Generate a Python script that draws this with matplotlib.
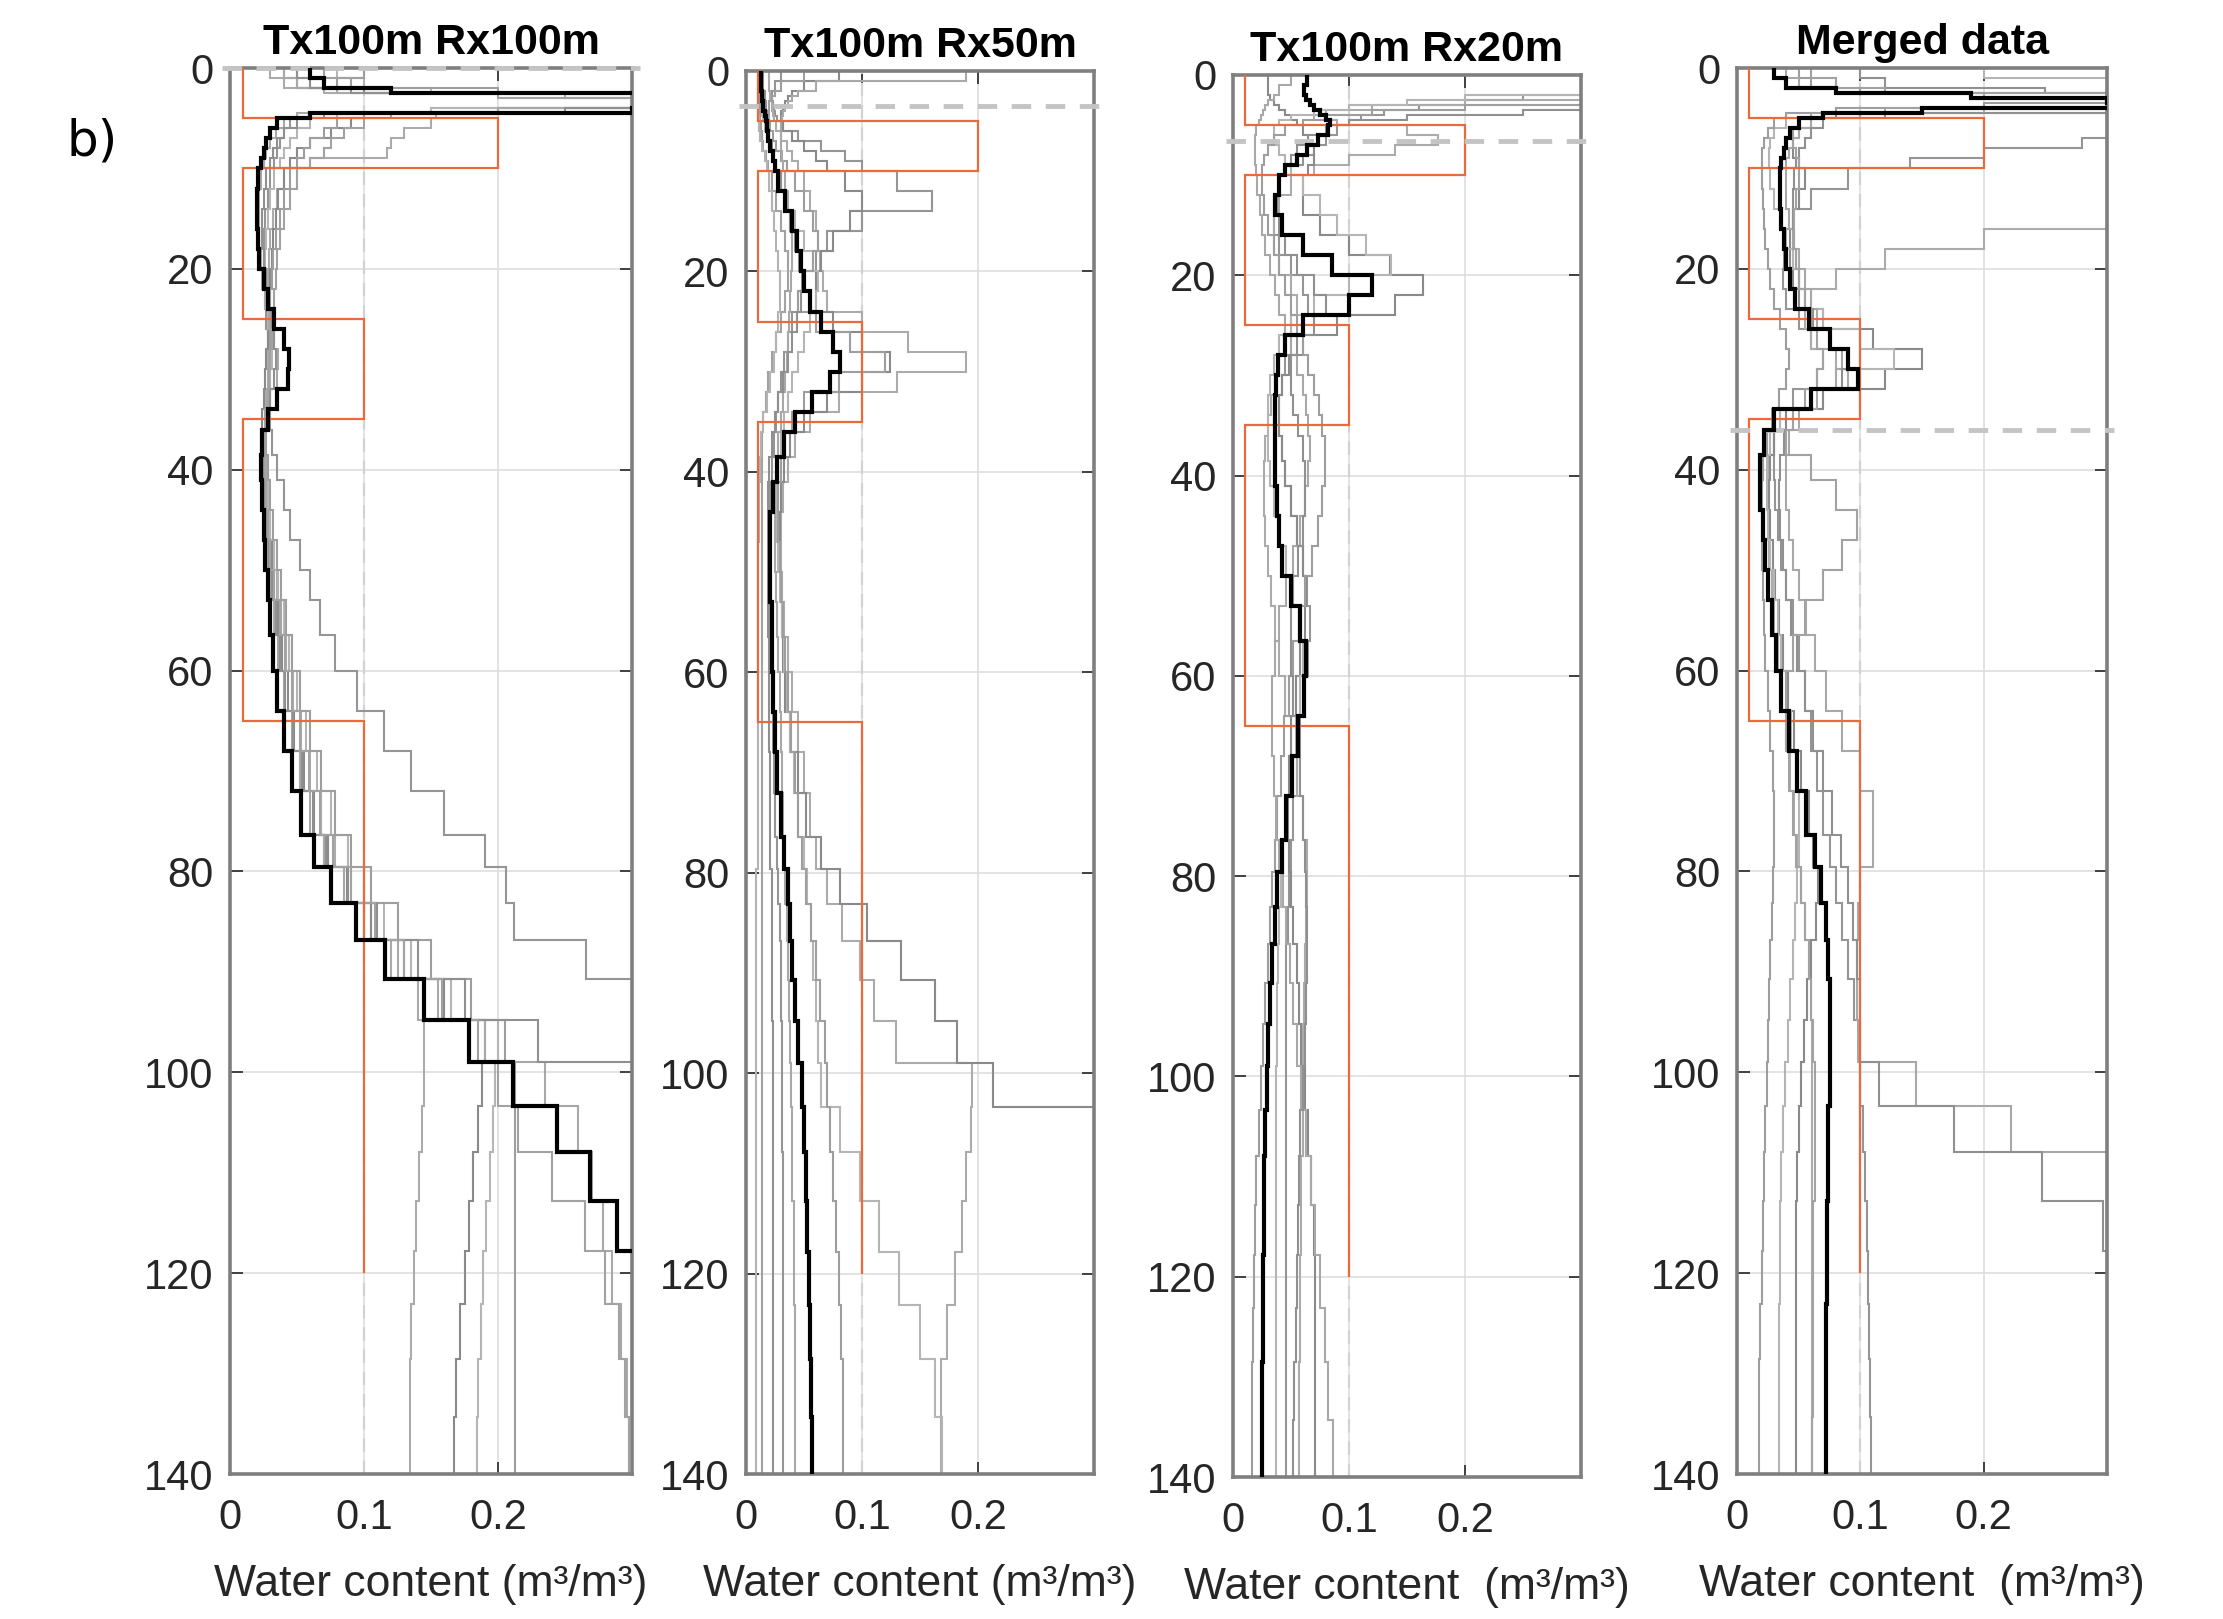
import matplotlib
matplotlib.use("Agg")
import matplotlib.pyplot as plt
from matplotlib.transforms import Bbox, TransformedBbox

plt.rcParams['font.family'] = ['Liberation Sans', 'DejaVu Sans']

# ---------------- data ----------------
# model layer edges (depth, m) shared by all inversion profiles
edges = [0, 1, 2, 2.5, 3, 3.5, 4, 4.5, 5, 6, 7, 8, 9, 10, 12, 14, 16, 18, 20, 22, 24, 26,
         28, 30, 32, 34, 36, 38.5, 41, 44, 47, 50, 53, 56.5, 60, 64, 68, 72, 76.4, 79.6,
         83.1, 86.8, 90.7, 94.8, 99.0, 103.4, 107.9, 112.8, 117.8, 123.1, 128.5, 134.3, 140]

# true (synthetic) model
true_edges = [0, 5, 10, 25, 35, 65, 120]
true_values = [0.01, 0.2, 0.01, 0.1, 0.01, 0.1]

titles = ["Tx100m Rx100m", "Tx100m Rx50m", "Tx100m Rx20m", "Merged data"]
xlabels = ["Water content (m³/m³)", "Water content (m³/m³)",
           "Water content  (m³/m³)", "Water content  (m³/m³)"]
ref_depths = [0.0, 3.5, 6.6, 36.0]
xticks = [0, 0.1, 0.2]
yticks = [0, 20, 40, 60, 80, 100, 120, 140]

# ---- panel 1 : Tx100m Rx100m ----
p1_black = [0.06, 0.07, 0.12, 0.4, 0.4, 0.4, 0.3, 0.06,
            0.035, 0.03, 0.027, 0.025, 0.023,
            0.021, 0.02, 0.02, 0.021, 0.022, 0.025, 0.028, 0.033, 0.04, 0.044, 0.043, 0.035, 0.028,
            0.024, 0.023, 0.024, 0.025, 0.026, 0.028, 0.03, 0.032, 0.035, 0.04, 0.046, 0.053, 0.063,
            0.075, 0.094, 0.116, 0.145, 0.178, 0.211, 0.244, 0.269, 0.289, 0.4, 0.4, 0.4, 0.4]
p1_g1 = [0.04, 0.05, 0.1, 0.4, 0.4, 0.4, 0.15, 0.06,
         0.045, 0.04, 0.037, 0.035, 0.033,
         0.03, 0.028, 0.026, 0.025, 0.025, 0.025, 0.026, 0.027, 0.028, 0.029, 0.03, 0.03, 0.03,
         0.031, 0.035, 0.04, 0.045, 0.052, 0.06, 0.067, 0.078, 0.095, 0.115, 0.135, 0.16, 0.19,
         0.206, 0.212, 0.266, 0.4, 0.4, 0.4, 0.4, 0.4, 0.4, 0.4, 0.4, 0.4, 0.4]
p1_g2 = [0.03, 0.04, 0.07, 0.2, 0.4, 0.4, 0.3, 0.154,
         0.15, 0.13, 0.12, 0.117, 0.06,
         0.04, 0.035, 0.032, 0.03, 0.029, 0.028, 0.028, 0.028, 0.028, 0.028, 0.028, 0.027, 0.026,
         0.026, 0.027, 0.028, 0.03, 0.032, 0.035, 0.038, 0.042, 0.047, 0.053, 0.06, 0.068, 0.078,
         0.09, 0.105, 0.12, 0.14, 0.145, 0.145, 0.143, 0.141, 0.139, 0.137, 0.135, 0.134, 0.134]
p1_g3 = [0.05, 0.06, 0.1, 0.3, 0.4, 0.4, 0.2, 0.1,
         0.09, 0.075, 0.06, 0.05, 0.045,
         0.04, 0.036, 0.034, 0.032, 0.031, 0.03, 0.03, 0.029, 0.028, 0.027, 0.026, 0.025, 0.024,
         0.024, 0.025, 0.027, 0.029, 0.031, 0.033, 0.036, 0.039, 0.043, 0.048, 0.055, 0.063, 0.073,
         0.087, 0.105, 0.13, 0.16, 0.19, 0.188, 0.185, 0.181, 0.178, 0.175, 0.172, 0.169, 0.167]
p1_g4 = [0.08, 0.1, 0.15, 0.35, 0.4, 0.3, 0.15, 0.08,
         0.06, 0.05, 0.045, 0.04, 0.037,
         0.033, 0.03, 0.028, 0.027, 0.026, 0.026, 0.027, 0.028, 0.03, 0.031, 0.03, 0.028, 0.026,
         0.025, 0.026, 0.028, 0.03, 0.033, 0.036, 0.04, 0.044, 0.05, 0.057, 0.065, 0.075, 0.088,
         0.1, 0.115, 0.135, 0.165, 0.2, 0.198, 0.196, 0.194, 0.191, 0.189, 0.187, 0.185, 0.184]
p1_g5 = [0.1, 0.08, 0.2, 0.4, 0.4, 0.4, 0.4, 0.1,
         0.08, 0.07, 0.06, 0.055, 0.05,
         0.045, 0.04, 0.037, 0.034, 0.032, 0.031, 0.03, 0.03, 0.03, 0.03, 0.029, 0.028, 0.027,
         0.027, 0.028, 0.03, 0.032, 0.035, 0.038, 0.042, 0.046, 0.052, 0.06, 0.068, 0.078, 0.09,
         0.105, 0.125, 0.15, 0.18, 0.205, 0.213, 0.213, 0.213, 0.213, 0.213, 0.213, 0.213, 0.213]
p1_g6 = [0.04, 0.05, 0.08, 0.25, 0.4, 0.4, 0.2, 0.05,
         0.04, 0.034, 0.03, 0.027, 0.025,
         0.023, 0.022, 0.022, 0.022, 0.023, 0.024, 0.026, 0.029, 0.033, 0.036, 0.035, 0.03, 0.026,
         0.023, 0.023, 0.024, 0.026, 0.028, 0.03, 0.033, 0.036, 0.04, 0.046, 0.052, 0.06, 0.07,
         0.085, 0.1, 0.125, 0.155, 0.19, 0.235, 0.26, 0.27, 0.278, 0.285, 0.292, 0.296, 0.298]
p1_g7 = [0.05, 0.06, 0.09, 0.3, 0.4, 0.4, 0.25, 0.07,
         0.05, 0.04, 0.035, 0.032, 0.03,
         0.027, 0.025, 0.024, 0.024, 0.025, 0.027, 0.029, 0.031, 0.033, 0.034, 0.033, 0.03, 0.027,
         0.025, 0.025, 0.026, 0.027, 0.029, 0.031, 0.034, 0.037, 0.041, 0.047, 0.054, 0.062, 0.072,
         0.088, 0.11, 0.14, 0.175, 0.23, 0.4, 0.4, 0.4, 0.4, 0.4, 0.4, 0.4, 0.4]
p1_g8 = [0.07, 0.09, 0.12, 0.2, 0.3, 0.4, 0.3, 0.12,
         0.1, 0.085, 0.075, 0.07, 0.06,
         0.05, 0.045, 0.04, 0.037, 0.035, 0.034, 0.033, 0.032, 0.031, 0.03, 0.029, 0.028, 0.027,
         0.026, 0.026, 0.027, 0.028, 0.03, 0.033, 0.037, 0.041, 0.046, 0.052, 0.059, 0.067, 0.077,
         0.09, 0.108, 0.13, 0.158, 0.185, 0.2, 0.215, 0.24, 0.265, 0.28, 0.29, 0.295, 0.298]

# ---- panel 2 : Tx100m Rx50m ----
p2_black = [0.013, 0.013, 0.014, 0.014, 0.015, 0.015, 0.016, 0.017,
            0.018, 0.019, 0.021, 0.023, 0.025,
            0.028, 0.034, 0.04, 0.044, 0.047, 0.05, 0.055, 0.065, 0.075, 0.081, 0.072, 0.057, 0.042,
            0.033, 0.027, 0.023, 0.021, 0.021, 0.021, 0.022, 0.022, 0.023, 0.025, 0.027, 0.03, 0.033,
            0.036, 0.038, 0.04, 0.042, 0.045, 0.048, 0.05, 0.052, 0.053, 0.054, 0.055, 0.056, 0.057]
p2_gA = [0.03, 0.025, 0.022, 0.022, 0.023, 0.024, 0.025, 0.027,
         0.032, 0.045, 0.065, 0.085, 0.1,
         0.13, 0.16, 0.1, 0.07, 0.06, 0.05, 0.045, 0.04, 0.036, 0.033, 0.03, 0.028, 0.026,
         0.024, 0.022, 0.021, 0.02, 0.02, 0.02, 0.02, 0.021, 0.022, 0.023, 0.024, 0.025, 0.027,
         0.028, 0.029, 0.03, 0.03, 0.031, 0.031, 0.031, 0.032, 0.032, 0.032, 0.032, 0.032, 0.032]
p2_gB = [0.02, 0.02, 0.021, 0.021, 0.022, 0.022, 0.023, 0.024,
         0.026, 0.03, 0.035, 0.04, 0.045,
         0.05, 0.055, 0.06, 0.062, 0.064, 0.066, 0.07, 0.1, 0.14, 0.19, 0.13, 0.08, 0.055,
         0.042, 0.036, 0.032, 0.03, 0.03, 0.031, 0.033, 0.036, 0.04, 0.045, 0.05, 0.055, 0.06,
         0.07, 0.083, 0.098, 0.11, 0.129, 0.195, 0.194, 0.19, 0.186, 0.18, 0.173, 0.168, 0.168]
p2_gC = [0.08, 0.05, 0.04, 0.036, 0.034, 0.032, 0.03, 0.03,
         0.032, 0.04, 0.05, 0.06, 0.07,
         0.085, 0.1, 0.09, 0.075, 0.065, 0.06, 0.06, 0.075, 0.1, 0.124, 0.1, 0.07, 0.05,
         0.038, 0.033, 0.03, 0.029, 0.029, 0.03, 0.031, 0.032, 0.034, 0.038, 0.045, 0.052, 0.065,
         0.081, 0.104, 0.134, 0.163, 0.182, 0.213, 0.4, 0.4, 0.4, 0.4, 0.4, 0.4, 0.4]
p2_gD = [0.012, 0.012, 0.013, 0.013, 0.013, 0.014, 0.014, 0.015,
         0.016, 0.018, 0.02, 0.023, 0.026,
         0.03, 0.035, 0.042, 0.05, 0.058, 0.062, 0.06, 0.055, 0.05, 0.045, 0.04, 0.036, 0.033,
         0.03, 0.028, 0.027, 0.027, 0.028, 0.029, 0.031, 0.033, 0.035, 0.038, 0.041, 0.045, 0.05,
         0.053, 0.056, 0.058, 0.06, 0.062, 0.065, 0.081, 0.098, 0.115, 0.132, 0.15, 0.163, 0.169]
p2_gE = [0.05, 0.03, 0.025, 0.022, 0.02, 0.02, 0.02, 0.02,
         0.021, 0.023, 0.026, 0.03, 0.035,
         0.042, 0.05, 0.058, 0.062, 0.058, 0.05, 0.045, 0.06, 0.09, 0.12, 0.08, 0.05, 0.04,
         0.033, 0.03, 0.028, 0.028, 0.029, 0.03, 0.032, 0.034, 0.036, 0.039, 0.042, 0.045, 0.048,
         0.052, 0.056, 0.06, 0.064, 0.068, 0.07, 0.072, 0.075, 0.078, 0.08, 0.082, 0.084, 0.084]
p2_gF = [0.19, 0.06, 0.045, 0.04, 0.036, 0.034, 0.032, 0.031,
         0.03, 0.03, 0.03, 0.031, 0.032,
         0.034, 0.036, 0.038, 0.04, 0.04, 0.039, 0.038, 0.037, 0.036, 0.035, 0.034, 0.032, 0.03,
         0.028, 0.026, 0.025, 0.025, 0.025, 0.026, 0.027, 0.028, 0.029, 0.03, 0.031, 0.032, 0.033,
         0.034, 0.035, 0.036, 0.037, 0.038, 0.039, 0.04, 0.04, 0.041, 0.041, 0.042, 0.042, 0.042]
p2_gG = [0.015, 0.015, 0.016, 0.016, 0.017, 0.017, 0.018, 0.018,
         0.019, 0.02, 0.022, 0.024, 0.026,
         0.03, 0.034, 0.038, 0.042, 0.046, 0.048, 0.047, 0.044, 0.04, 0.036, 0.032, 0.028, 0.025,
         0.022, 0.02, 0.019, 0.019, 0.019, 0.019, 0.019, 0.02, 0.02, 0.02, 0.021, 0.021, 0.021,
         0.022, 0.022, 0.022, 0.022, 0.023, 0.023, 0.023, 0.023, 0.023, 0.023, 0.023, 0.023, 0.023]
p2_gH = [0.011, 0.011, 0.011, 0.011, 0.012, 0.012, 0.012, 0.012,
         0.013, 0.014, 0.015, 0.017, 0.019,
         0.022, 0.026, 0.03, 0.034, 0.036, 0.036, 0.034, 0.03, 0.026, 0.022, 0.019, 0.017, 0.015,
         0.014, 0.014, 0.014, 0.014, 0.014, 0.014, 0.014, 0.014, 0.014, 0.014, 0.014, 0.014, 0.014,
         0.014, 0.014, 0.014, 0.014, 0.014, 0.014, 0.014, 0.014, 0.014, 0.014, 0.014, 0.014, 0.014]
p2_gI = [0.01, 0.01, 0.01, 0.01, 0.01, 0.01, 0.01, 0.011,
         0.011, 0.012, 0.014, 0.016, 0.018,
         0.02, 0.022, 0.024, 0.026, 0.028, 0.029, 0.029, 0.028, 0.026, 0.024, 0.021, 0.018, 0.015,
         0.013, 0.012, 0.011, 0.011, 0.01, 0.01, 0.01, 0.01, 0.01, 0.01, 0.01, 0.01, 0.01,
         0.009, 0.009, 0.009, 0.009, 0.009, 0.009, 0.009, 0.009, 0.009, 0.009, 0.009, 0.009, 0.009]

# ---- panel 3 : Tx100m Rx20m ----
p3_black = [0.064, 0.061, 0.063, 0.066, 0.07, 0.075, 0.08, 0.084,
            0.082, 0.073, 0.064, 0.055, 0.045,
            0.04, 0.036, 0.042, 0.06, 0.085, 0.12, 0.1, 0.06, 0.045, 0.039, 0.037, 0.036, 0.036,
            0.036, 0.036, 0.038, 0.04, 0.042, 0.05, 0.058, 0.063, 0.061, 0.056, 0.051, 0.046, 0.042,
            0.038, 0.036, 0.034, 0.032, 0.03, 0.029, 0.028, 0.027, 0.027, 0.026, 0.026, 0.025, 0.025]
p3_hA = [0.4, 0.35, 0.25, 0.2, 0.16, 0.13, 0.11, 0.1,
         0.09, 0.08, 0.07, 0.06, 0.05,
         0.04, 0.035, 0.035, 0.04, 0.05, 0.06, 0.065, 0.06, 0.05, 0.045, 0.042, 0.04, 0.04,
         0.042, 0.045, 0.05, 0.055, 0.06, 0.064, 0.066, 0.065, 0.062, 0.058, 0.055, 0.052, 0.05,
         0.048, 0.047, 0.046, 0.046, 0.046, 0.046, 0.046, 0.046, 0.046, 0.046, 0.046, 0.046, 0.046]
p3_hB = [0.4, 0.4, 0.3, 0.2, 0.12, 0.08, 0.07, 0.09,
         0.15, 0.177, 0.14, 0.1, 0.07,
         0.05, 0.04, 0.035, 0.035, 0.04, 0.05, 0.055, 0.05, 0.045, 0.04, 0.036, 0.033, 0.03,
         0.028, 0.027, 0.027, 0.028, 0.03, 0.033, 0.036, 0.04, 0.045, 0.05, 0.055, 0.06, 0.064,
         0.064, 0.063, 0.062, 0.061, 0.06, 0.06, 0.06, 0.059, 0.059, 0.058, 0.058, 0.057, 0.057]
p3_hC = [0.03, 0.03, 0.032, 0.035, 0.04, 0.045, 0.05, 0.055,
         0.06, 0.065, 0.07, 0.07, 0.065,
         0.06, 0.06, 0.075, 0.1, 0.135, 0.164, 0.14, 0.09, 0.06, 0.048, 0.042, 0.04, 0.04,
         0.042, 0.045, 0.05, 0.055, 0.06, 0.063, 0.062, 0.058, 0.054, 0.05, 0.048, 0.047, 0.048,
         0.05, 0.052, 0.055, 0.057, 0.059, 0.062, 0.065, 0.067, 0.07, 0.071, 0.071, 0.071, 0.071]
p3_hD = [0.4, 0.3, 0.2, 0.15, 0.1, 0.07, 0.05, 0.04,
         0.035, 0.035, 0.04, 0.045, 0.05,
         0.06, 0.075, 0.09, 0.115, 0.136, 0.1, 0.07, 0.05, 0.04, 0.035, 0.032, 0.03, 0.03,
         0.03, 0.032, 0.035, 0.04, 0.046, 0.052, 0.058, 0.06, 0.058, 0.054, 0.05, 0.046, 0.043,
         0.041, 0.04, 0.039, 0.038, 0.038, 0.037, 0.037, 0.037, 0.037, 0.037, 0.037, 0.037, 0.037]
p3_hE = [0.4, 0.4, 0.4, 0.3, 0.2, 0.12, 0.08, 0.06,
         0.045, 0.035, 0.03, 0.027, 0.025,
         0.025, 0.027, 0.03, 0.035, 0.04, 0.045, 0.05, 0.055, 0.06, 0.065, 0.07, 0.074, 0.077,
         0.079, 0.079, 0.077, 0.073, 0.068, 0.062, 0.057, 0.052, 0.048, 0.044, 0.041, 0.038, 0.036,
         0.034, 0.032, 0.03, 0.028, 0.026, 0.024, 0.022, 0.02, 0.019, 0.018, 0.017, 0.016, 0.016]
p3_hF = [0.05, 0.04, 0.035, 0.03, 0.028, 0.026, 0.024, 0.022,
         0.02, 0.019, 0.019, 0.019, 0.02,
         0.021, 0.023, 0.025, 0.028, 0.032, 0.036, 0.04, 0.045, 0.05, 0.055, 0.06, 0.063, 0.065,
         0.066, 0.065, 0.062, 0.058, 0.052, 0.046, 0.04, 0.036, 0.034, 0.034, 0.035, 0.037, 0.04,
         0.043, 0.046, 0.049, 0.052, 0.055, 0.059, 0.063, 0.067, 0.071, 0.075, 0.079, 0.082, 0.086]
p3_hG = [0.4, 0.4, 0.4, 0.4, 0.4, 0.25, 0.15, 0.1,
         0.08, 0.065, 0.055, 0.05, 0.045,
         0.04, 0.038, 0.04, 0.045, 0.055, 0.07, 0.08, 0.07, 0.055, 0.05, 0.05, 0.052, 0.056,
         0.06, 0.062, 0.062, 0.06, 0.056, 0.052, 0.05, 0.05, 0.052, 0.055, 0.058, 0.06, 0.062,
         0.063, 0.064, 0.064, 0.063, 0.062, 0.06, 0.058, 0.057, 0.056, 0.055, 0.054, 0.053, 0.052]

# ---- panel 4 : Merged data ----
p4_black = [0.03, 0.04, 0.08, 0.19, 0.3, 0.4, 0.15, 0.07,
            0.05, 0.043, 0.04, 0.038, 0.036,
            0.035, 0.035, 0.036, 0.038, 0.04, 0.043, 0.047, 0.058, 0.075, 0.09, 0.098, 0.06, 0.03,
            0.022, 0.019, 0.019, 0.021, 0.023, 0.025, 0.028, 0.032, 0.036, 0.042, 0.049, 0.056, 0.063,
            0.068, 0.072, 0.074, 0.075, 0.075, 0.075, 0.074, 0.074, 0.073, 0.073, 0.072, 0.072, 0.072]
p4_kA = [0.4, 0.4, 0.4, 0.4, 0.4, 0.4, 0.4, 0.4,
         0.4, 0.4, 0.28, 0.2, 0.14,
         0.09, 0.06, 0.045, 0.04, 0.038, 0.037, 0.04, 0.05, 0.06, 0.07, 0.065, 0.045, 0.035,
         0.03, 0.03, 0.031, 0.033, 0.036, 0.04, 0.045, 0.05, 0.055, 0.06, 0.065, 0.07, 0.075,
         0.08, 0.085, 0.09, 0.095, 0.1, 0.1, 0.102, 0.104, 0.105, 0.106, 0.107, 0.108, 0.109]
p4_kB = [0.4, 0.4, 0.4, 0.4, 0.4, 0.4, 0.4, 0.4,
         0.4, 0.4, 0.4, 0.4, 0.4,
         0.4, 0.4, 0.35, 0.2, 0.12, 0.08, 0.06, 0.055, 0.06, 0.08, 0.09, 0.06, 0.04,
         0.03, 0.026, 0.025, 0.025, 0.026, 0.028, 0.03, 0.033, 0.036, 0.04, 0.043, 0.046, 0.049,
         0.052, 0.055, 0.058, 0.06, 0.061, 0.061, 0.061, 0.061, 0.061, 0.061, 0.061, 0.061, 0.061]
p4_kC = [0.4, 0.4, 0.4, 0.4, 0.4, 0.3, 0.15, 0.08,
         0.06, 0.05, 0.045, 0.045, 0.05,
         0.055, 0.05, 0.045, 0.043, 0.043, 0.045, 0.05, 0.07, 0.11, 0.15, 0.12, 0.07, 0.04,
         0.03, 0.027, 0.026, 0.027, 0.029, 0.031, 0.034, 0.037, 0.041, 0.046, 0.052, 0.058, 0.062,
         0.066, 0.064, 0.06, 0.057, 0.054, 0.052, 0.05, 0.049, 0.048, 0.048, 0.048, 0.048, 0.048]
p4_kD = [0.2, 0.3, 0.4, 0.4, 0.4, 0.4, 0.2, 0.07,
         0.04, 0.03, 0.027, 0.026, 0.026,
         0.027, 0.03, 0.035, 0.04, 0.045, 0.05, 0.055, 0.07, 0.1, 0.127, 0.1, 0.06, 0.035,
         0.027, 0.024, 0.024, 0.025, 0.027, 0.03, 0.033, 0.036, 0.04, 0.044, 0.048, 0.05, 0.05,
         0.049, 0.047, 0.045, 0.043, 0.041, 0.039, 0.037, 0.036, 0.035, 0.035, 0.034, 0.034, 0.034]
p4_kE = [0.05, 0.06, 0.1, 0.4, 0.4, 0.2, 0.08, 0.04,
         0.03, 0.025, 0.022, 0.02, 0.02,
         0.02, 0.021, 0.022, 0.023, 0.025, 0.027, 0.03, 0.035, 0.04, 0.042, 0.04, 0.034, 0.028,
         0.024, 0.021, 0.02, 0.02, 0.02, 0.021, 0.022, 0.023, 0.025, 0.027, 0.029, 0.03, 0.03,
         0.029, 0.028, 0.027, 0.026, 0.025, 0.024, 0.023, 0.022, 0.021, 0.02, 0.019, 0.018, 0.018]
p4_kF = [0.04, 0.05, 0.08, 0.2, 0.4, 0.4, 0.3, 0.1,
         0.06, 0.05, 0.045, 0.042, 0.04,
         0.04, 0.04, 0.042, 0.045, 0.05, 0.055, 0.06, 0.065, 0.075, 0.085, 0.08, 0.065, 0.05,
         0.042, 0.04, 0.04, 0.042, 0.045, 0.05, 0.056, 0.063, 0.072, 0.085, 0.1, 0.11, 0.11,
         0.1, 0.098, 0.097, 0.097, 0.098, 0.145, 0.222, 0.4, 0.4, 0.4, 0.4, 0.4, 0.4]
p4_kG = [0.1, 0.12, 0.25, 0.4, 0.4, 0.4, 0.3, 0.12,
         0.07, 0.06, 0.055, 0.05, 0.048,
         0.046, 0.045, 0.045, 0.046, 0.048, 0.05, 0.055, 0.062, 0.075, 0.09, 0.085, 0.06, 0.045,
         0.038, 0.035, 0.034, 0.035, 0.037, 0.04, 0.044, 0.049, 0.055, 0.062, 0.07, 0.077, 0.084,
         0.09, 0.094, 0.097, 0.1, 0.1, 0.115, 0.176, 0.247, 0.297, 0.4, 0.4, 0.4, 0.4]
p4_kH = [0.06, 0.08, 0.12, 0.3, 0.4, 0.3, 0.12, 0.06,
         0.05, 0.045, 0.045, 0.048, 0.05,
         0.05, 0.048, 0.046, 0.046, 0.048, 0.05, 0.055, 0.06, 0.065, 0.07, 0.065, 0.055, 0.045,
         0.04, 0.06, 0.08, 0.097, 0.085, 0.07, 0.055, 0.045, 0.04, 0.04, 0.042, 0.045, 0.048,
         0.052, 0.055, 0.058, 0.06, 0.062, 0.063, 0.063, 0.063, 0.062, 0.062, 0.062, 0.062, 0.061]

panel_grays = [
    [p1_g1, p1_g2, p1_g3, p1_g4, p1_g5, p1_g6, p1_g7, p1_g8],
    [p2_gA, p2_gB, p2_gC, p2_gD, p2_gE, p2_gF, p2_gG, p2_gH, p2_gI],
    [p3_hA, p3_hB, p3_hC, p3_hD, p3_hE, p3_hF, p3_hG],
    [p4_kA, p4_kB, p4_kC, p4_kD, p4_kE, p4_kF, p4_kG, p4_kH],
]
panel_black = [p1_black, p2_black, p3_black, p4_black]

# ---------------- layout / style ----------------
W, H = 2223, 1619
fig = plt.figure(figsize=(W / 100, H / 100), dpi=100)

# axes rectangles in pixels: left, top, right, bottom
rects_px = [(230, 68, 632, 1474), (746, 71, 1094, 1474),
            (1233, 75, 1581, 1477), (1737, 68, 2107, 1474)]

gray_shades = ['#959595', '#ababab', '#8a8a8a', '#b5b5b5', '#9e9e9e',
               '#a8a8a8', '#909090', '#a2a2a2', '#b3b3b3']
spine_col = '#7f7f7f'
text_col = '#262626'
orange = '#EB6A3C'
FS = 30

for i in range(4):
    l, t, r, b = rects_px[i]
    ax = fig.add_axes([l / W, 1 - b / H, (r - l) / W, (b - t) / H])
    ax.set_xlim(0, 0.3)
    ax.set_ylim(140, 0)

    ax.grid(True, color='#dedede', lw=1.2, zorder=0)
    ax.set_axisbelow(True)
    ax.axvline(0.1, color='#d2d2d2', lw=1.6, ls=(0, (6, 4)), zorder=1)

    for j, g in enumerate(panel_grays[i]):
        assert len(g) == len(edges) - 1
        ax.stairs(g, edges, orientation='horizontal', baseline=None,
                  color=gray_shades[j % len(gray_shades)], lw=1.5, zorder=2)

    ax.stairs(true_values, true_edges, orientation='horizontal', baseline=None,
              color=orange, lw=1.6, zorder=3)

    ax.axhline(ref_depths[i], xmin=-0.02, xmax=1.02, color='#c4c4c4', lw=3.5,
               ls=(0, (4, 3)), zorder=3.5, clip_on=False)

    assert len(panel_black[i]) == len(edges) - 1
    ax.stairs(panel_black[i], edges, orientation='horizontal', baseline=None,
              color='black', lw=3.0, zorder=4)

    ax.set_xticks(xticks)
    ax.set_xticklabels(['0', '0.1', '0.2'])
    ax.set_yticks(yticks)
    ax.tick_params(direction='in', length=9, width=1.3, colors='#333333',
                   labelcolor=text_col, labelsize=FS, top=True, right=True)
    ax.tick_params(axis='x', pad=17)
    ax.tick_params(axis='y', pad=12)
    for sp in ax.spines.values():
        sp.set_color(spine_col)
        sp.set_linewidth(2.6)

    ax.set_title(titles[i], fontsize=31, fontweight='bold', color='black', pad=10)
    ax.set_xlabel(xlabels[i], fontsize=32, color=text_col, labelpad=19)

    if i == 1:
        lab = ax.xaxis.label
        lab.set_clip_box(TransformedBbox(Bbox([[0, 0], [1138 / W, 1]]), fig.transFigure))
        lab.set_clip_on(True)

fig.text(92 / W, 1 - 142 / H, 'b)', fontsize=36, family='DejaVu Sans',
         ha='center', va='center', color='black')

fig.savefig('out.png', dpi=100, facecolor='white')
